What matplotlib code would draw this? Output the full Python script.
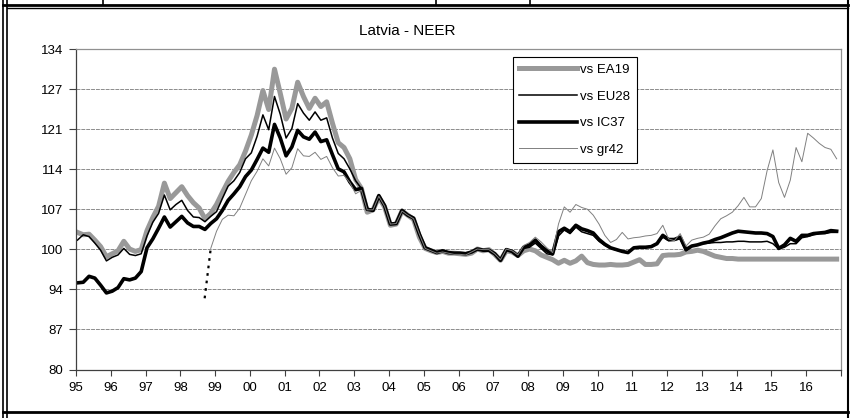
import numpy as np
import matplotlib
matplotlib.use("Agg")
import matplotlib.pyplot as plt
from matplotlib.lines import Line2D

plt.rcParams['font.family'] = ['Liberation Sans', 'DejaVu Sans']

# bi-monthly NEER index readings, six per year, 1995-2016
ea19 = [
    103.1, 102.7, 102.8, 101.8, 100.7, 99.0,    # 1995
    99.5, 100.0, 101.6, 100.3, 99.9, 100.2,     # 1996
    103.4, 105.6, 107.5, 111.4, 108.8, 109.8,   # 1997
    110.8, 109.3, 108.1, 107.2, 105.4, 106.3,   # 1998
    107.8, 109.8, 111.7, 113.2, 114.5, 116.8,   # 1999
    119.5, 122.8, 127.0, 123.8, 130.6, 126.5,   # 2000
    122.2, 124.0, 128.4, 126.0, 124.0, 125.7,   # 2001
    124.3, 125.1, 121.5, 118.2, 117.4, 115.5,   # 2002
    112.0, 110.5, 106.5, 106.9, 109.0, 107.4,   # 2003
    104.3, 104.5, 106.7, 106.0, 105.3, 102.3,   # 2004
    100.4, 100.0, 99.7, 99.9, 99.6, 99.6,       # 2005
    99.5, 99.4, 99.6, 100.3, 100.0, 100.2,      # 2006
    99.4, 98.4, 100.0, 99.8, 99.2, 100.0,       # 2007
    100.3, 100.0, 99.3, 98.9, 98.5, 97.9,       # 2008
    98.4, 97.9, 98.3, 99.1, 98.0, 97.7,         # 2009
    97.6, 97.6, 97.7, 97.6, 97.6, 97.7,         # 2010
    98.1, 98.5, 97.7, 97.7, 97.8, 99.2,         # 2011
    99.3, 99.3, 99.4, 99.8, 99.9, 100.1,        # 2012
    99.9, 99.5, 99.1, 98.9, 98.7, 98.7,         # 2013
    98.6, 98.6, 98.6, 98.6, 98.6, 98.6,         # 2014
    98.6, 98.6, 98.6, 98.6, 98.6, 98.6,         # 2015
    98.6, 98.6, 98.6, 98.6, 98.6, 98.6,         # 2016
]

eu28 = [
    101.8, 102.7, 102.4, 101.3, 100.1, 98.3,
    98.9, 99.3, 100.4, 99.4, 99.2, 99.5,
    102.5, 104.8, 106.3, 109.4, 106.9, 107.8,
    108.5, 106.8, 105.7, 105.6, 104.9, 105.8,
    106.6, 108.8, 110.9, 111.8, 113.2, 115.5,
    116.5, 119.3, 122.9, 120.4, 126.0, 123.0,
    119.0, 120.6, 124.8, 123.2, 122.0, 123.4,
    122.0, 122.4, 119.0, 116.4, 115.5, 113.8,
    111.8, 110.5, 107.0, 107.0, 109.3, 107.6,
    104.5, 104.6, 106.8, 106.0, 105.5, 102.8,
    100.5, 100.1, 99.7, 100.0, 99.7, 99.6,
    99.6, 99.5, 99.8, 100.3, 100.1, 100.1,
    99.5, 98.4, 100.2, 99.9, 99.0, 100.4,
    100.6, 101.3, 100.4, 99.5, 99.3, 102.5,
    103.5, 102.9, 104.0, 103.2, 102.9, 102.6,
    101.6, 100.9, 100.4, 100.1, 99.9, 99.8,
    100.5, 100.5, 100.6, 100.8, 101.3, 102.3,
    101.7, 101.8, 102.0, 100.0, 100.8, 101.0,
    101.2, 101.3, 101.4, 101.4, 101.5, 101.5,
    101.6, 101.6, 101.5, 101.5, 101.5, 101.6,
    101.2, 100.3, 100.6, 101.2, 101.2, 102.2,
    102.4, 102.7, 102.9, 102.9, 103.1, 103.1,
]

ic37 = [
    94.6, 94.7, 95.7, 95.4, 94.2, 92.9,
    93.2, 93.8, 95.3, 95.1, 95.4, 96.5,
    100.5, 102.0, 103.8, 105.7, 104.0, 104.9,
    105.8, 104.7, 104.1, 104.1, 103.6, 104.6,
    105.4, 106.8, 108.5, 109.6, 110.8, 112.5,
    113.6, 115.4, 117.3, 116.6, 121.3, 119.0,
    116.0, 117.5, 120.3, 119.2, 118.8, 120.0,
    118.4, 118.7, 116.2, 113.8, 113.3, 111.6,
    110.3, 110.5, 107.0, 106.8, 109.3, 107.6,
    104.5, 104.6, 106.8, 106.0, 105.5, 102.8,
    100.5, 100.1, 99.7, 100.0, 99.7, 99.6,
    99.6, 99.5, 99.8, 100.3, 100.1, 100.1,
    99.5, 98.4, 100.2, 99.9, 99.1, 100.6,
    101.0, 101.8, 100.8, 100.0, 99.5, 103.2,
    103.8, 103.2, 104.3, 103.7, 103.4, 103.0,
    101.9, 101.1, 100.5, 100.2, 99.9, 99.7,
    100.5, 100.6, 100.6, 100.7, 101.2, 102.6,
    101.9, 101.9, 102.3, 100.2, 100.8, 101.0,
    101.3, 101.5, 101.9, 102.2, 102.6, 103.0,
    103.3, 103.2, 103.1, 103.0, 103.0, 102.9,
    102.4, 100.4, 101.0, 102.1, 101.6, 102.6,
    102.6, 102.9, 103.0, 103.1, 103.4, 103.3,
]

# gr42 only starts at the end of 1998
gr42_first = 23
gr42 = [
    100.4,                                      # late 1998
    103.3, 105.3, 106.0, 105.9, 107.2, 109.5,
    111.8, 113.4, 115.5, 114.3, 117.3, 115.5,
    112.9, 114.0, 117.2, 116.0, 115.9, 116.6,
    115.4, 115.9, 114.0, 112.6, 112.7, 111.5,
    109.6, 110.2, 106.9, 106.9, 109.2, 107.5,
    104.5, 104.6, 106.7, 106.0, 105.4, 102.8,
    100.4, 100.0, 99.6, 99.8, 99.6, 99.4,
    99.4, 99.3, 99.8, 100.3, 100.2, 100.2,
    99.5, 98.5, 100.3, 100.0, 99.3, 100.9,
    101.4, 102.3, 101.5, 100.5, 99.7, 104.5,
    107.4, 106.5, 107.8, 107.3, 107.0, 106.0,
    104.5, 102.6, 101.4, 101.9, 103.1, 102.0,
    102.2, 102.3, 102.5, 102.6, 102.9, 104.3,
    102.0, 101.7, 102.9, 100.8, 101.8, 102.1,
    102.3, 102.8, 104.2, 105.4, 105.9, 106.5,
    107.6, 109.0, 107.4, 107.4, 108.8, 113.5,
    117.0, 111.5, 109.0, 111.9, 117.4, 115.0,
    119.8, 119.0, 118.1, 117.4, 117.1, 115.5,
]

# dotted back-extension of the gr42 series
link_x = [1998.70, 1998.875]
link_y = [92.0, 100.4]

years = list(range(1995, 2017))
year_labels = [str(y)[2:] for y in years]
y_ticks = [80, 86.75, 93.5, 100.25, 107, 113.75, 120.5, 127.25, 134]
y_labels = ['80', '87', '94', '100', '107', '114', '121', '127', '134']

x = 1995 + (np.arange(len(ea19)) + 0.25) / 6.0

W, H = 852, 418
fig = plt.figure(figsize=(W / 100, H / 100), dpi=100)
ax = fig.add_axes([76 / W, 1 - 369.5 / H, 765 / W, 320.5 / H])

ax.plot(x, ea19, color='#999999', lw=3.6, solid_joinstyle='round', label='vs EA19')
ax.plot(x, eu28, color='black', lw=1.1, label='vs EU28')
ax.plot(x, ic37, color='black', lw=2.6, solid_joinstyle='round', label='vs IC37')
ax.plot(x[gr42_first:], gr42, color='#808080', lw=0.7, label='vs gr42')
ax.plot(link_x, link_y, color='black', lw=1.6, linestyle=(0, (1.2, 2.2)))

ax.set_xlim(1995, 2017)
ax.set_ylim(80, 134)
ax.set_yticks(y_ticks)
ax.set_yticklabels(y_labels)
ax.set_xticks(years + [2017])
ax.set_xticklabels(year_labels + [''])
ax.tick_params(axis='x', length=4, width=0.8, color='#404040', pad=5, labelsize=9.5)
ax.tick_params(axis='y', length=5, width=0.8, color='#404040', pad=4, labelsize=9.5)

ax.grid(axis='y', color='#8c8c8c', lw=0.7, linestyle=(0, (4, 1)))
ax.set_axisbelow(True)
for side in ['left', 'bottom']:
    ax.spines[side].set_color('#404040')
    ax.spines[side].set_linewidth(0.9)
for side in ['top', 'right']:
    ax.spines[side].set_color('#909090')
    ax.spines[side].set_linewidth(0.9)

leg = ax.legend(loc='upper left', bbox_to_anchor=(0.571, 0.975), fontsize=9.5,
                handlelength=4.4, handletextpad=0.2, labelspacing=1.1,
                borderpad=0.5, fancybox=False, framealpha=1, borderaxespad=0)
leg.get_frame().set_edgecolor('black')
leg.get_frame().set_linewidth(0.8)

fig.text(407 / W, 1 - 31 / H, 'Latvia - NEER', ha='center', va='center', fontsize=11)


# page frame around the chart
def frame_line(x0, y0, x1, y1, lw):
    fig.add_artist(Line2D([x0 / W, x1 / W], [1 - y0 / H, 1 - y1 / H],
                          transform=fig.transFigure, color='black', lw=lw))


frame_line(3, 0, 3, H, 1.2)
frame_line(7, 0, 7, H, 1.2)
frame_line(848, 0, 848, H, 1.5)
frame_line(3, 4.5, 848, 4.5, 2.0)
frame_line(7, 8, 848, 8, 1.0)
frame_line(3, 411.5, 848, 411.5, 2.0)
for sx in [103, 436, 530]:
    frame_line(sx, 0, sx, 4.5, 1.2)

fig.savefig('out.png', dpi=100)
